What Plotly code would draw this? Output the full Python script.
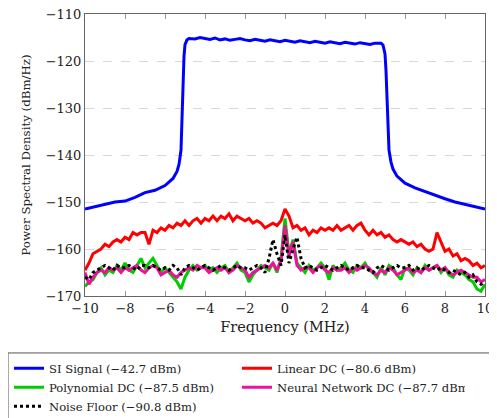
import numpy as np
import plotly.graph_objects as go

freq = np.round(np.arange(-10, 10.001, 0.2), 1)

si_x = [-10, -9.5, -9, -8.5, -8, -7.5, -7, -6.5, -6, -5.8, -5.6, -5.4, -5.3, -5.2, -5.15, -5.1, -5.05, -5.0,
        -4.9, -4.8, -4.5, -4.25, -4.0, -3.75, -3.5, -3.25, -3.0, -2.75, -2.5, -2.25, -2.0, -1.75, -1.5, -1.25,
        -1.0, -0.75, -0.5, -0.25, 0, 0.25, 0.5, 0.75, 1.0, 1.25, 1.5, 1.75, 2.0, 2.25, 2.5, 2.75, 3.0, 3.25,
        3.5, 3.75, 4.0, 4.25, 4.5, 4.8, 4.9, 5.0, 5.05, 5.1, 5.15, 5.2, 5.3, 5.4, 5.6, 5.8, 6.0, 6.5, 7.0,
        7.5, 8.0, 8.5, 9.0, 9.5, 10]
si_y = [-151.5, -151, -150.5, -150, -149.8, -149, -148, -147.5, -146.5, -145.8, -145, -143.5, -142, -139,
        -132, -124, -119, -116.5, -115.5, -115.2, -115.3, -115.0, -115.2, -115.4, -115.1, -115.5, -115.3,
        -115.6, -115.4, -115.2, -115.5, -115.7, -115.4, -115.6, -115.8, -115.5, -115.7, -115.9, -115.6,
        -115.8, -116.0, -115.7, -115.9, -116.1, -115.8, -116.0, -116.2, -115.9, -116.1, -116.3, -116.0,
        -116.2, -116.4, -116.1, -116.3, -116.5, -116.2, -116.2, -116.6, -118.5, -122, -128, -135, -139,
        -141.5, -143, -144.5, -145.3, -146, -147, -147.8, -148.5, -149.3, -150, -150.5, -151, -151.5]

linear_dc = [
    -164.5, -163, -161, -160.5, -160, -159, -159.5, -158.5, -158, -158.5,
    -157.5, -158, -156.5, -157, -156.5, -156.5, -159, -156, -156.5, -155.5,
    -156, -155, -155.5, -154.5, -155, -154, -155, -154, -153.5, -154.5,
    -153.5, -154, -153, -154, -153, -153.5, -152.5, -154, -153, -153.5,
    -154, -153.5, -154.5, -154, -154.5, -155.5, -155, -154.5, -155, -154,
    -151.5, -153, -155.5, -155, -156, -155.5, -157, -156, -156.5, -155.5,
    -156, -155.5, -156, -155, -156, -155.5, -155, -156, -155, -154.5,
    -156, -157, -156, -157, -156.5, -157.5, -157, -158, -158.5, -158,
    -158.5, -159, -158.5, -159.5, -159, -160, -160.5, -160, -156.5, -158.5,
    -160.5, -160, -161.5, -161, -162.5, -162, -162.5, -163.5, -163, -164,
    -163.5]

poly_dc = [
    -168, -167, -166.5, -165, -164, -165.5, -164.5, -165, -163.5, -164.5,
    -163, -164.5, -165, -163.5, -162, -164, -163, -162, -163.5, -165,
    -164, -165, -166, -167, -168.5, -166, -164.5, -163.5, -164.5, -164,
    -163.5, -164.5, -164, -165, -164, -163.5, -165, -164, -163, -164.5,
    -165, -167, -165.5, -164.5, -163.5, -164, -164.5, -163, -165, -162,
    -153.5, -161, -158, -163, -164, -165, -163.5, -164.5, -164, -163,
    -164, -166.5, -163.5, -164.5, -164, -163, -164.5, -165, -163.5, -164,
    -163, -164.5, -165, -166, -164, -165.5, -163.5, -164, -165.5, -166.5,
    -164, -164.5, -165.5, -164, -165, -163.5, -164.5, -164, -163.5, -165,
    -164, -165.5, -166, -164.5, -165, -165.5, -166.5, -167, -168.5, -169,
    -167.5]

nn_dc = [
    -165, -167.5, -166, -165, -164.5, -165, -164, -164.5, -164, -165,
    -164, -164.5, -164, -163.5, -164.5, -165, -164, -163.5, -164, -165.5,
    -165, -164.5, -165.5, -166, -165, -164.5, -164, -164.5, -163.5, -164,
    -164, -165, -164.5, -164, -164.5, -164, -165, -164.5, -163.5, -164,
    -164.5, -166, -165, -164.5, -164, -163.5, -164, -163, -164.5, -162.5,
    -155, -161.5, -158.5, -163.5, -164.5, -164, -164, -165, -164, -163.5,
    -164.5, -165, -164, -164.5, -164.5, -164, -165, -164, -164.5, -164,
    -163.5, -164, -165, -165.5, -164.5, -165, -164, -164.5, -165.5, -165,
    -164.5, -164, -165, -164.5, -165, -164, -164.5, -164, -163.5, -164.5,
    -164, -165, -165.5, -165, -164.5, -165, -165.5, -166, -166, -167,
    -166.5]

noise_floor = [
    -166, -166.5, -165, -164.5, -164, -163.5, -164, -164.5, -163.5, -164,
    -164, -163.5, -164, -164.5, -163.5, -163.5, -164, -163.5, -164, -164.5,
    -164, -164.5, -163.5, -164, -165.5, -164, -163.5, -164, -164.5, -164,
    -163.5, -164, -164.5, -164, -163.5, -164, -164.5, -164, -163.5, -164,
    -164, -164.5, -164, -163.5, -164, -165, -162, -158, -161, -163.5,
    -157, -163, -160, -157.5, -162, -164, -163.5, -164, -164.5, -164,
    -163.5, -164, -164.5, -164, -163.5, -164, -164.5, -164, -163.5, -164,
    -164, -164.5, -165, -164, -163.5, -164, -164.5, -164, -163.5, -164,
    -164, -163.5, -164.5, -164, -164.5, -164, -163.5, -164, -164.5, -164,
    -164.5, -165, -164.5, -165, -165.5, -165, -166, -165.5, -167, -167.5,
    -167]

names = ["SI Signal (−42.7 dBm)", "Linear DC (−80.6 dBm)", "Polynomial DC (−87.5 dBm)",
         "Neural Network DC (−87.7 dBm)", "Noise Floor (−90.8 dBm)"]

x_ticks = [-10, -8, -6, -4, -2, 0, 2, 4, 6, 8, 10]
y_ticks = [-170, -160, -150, -140, -130, -120, -110]

fig = go.Figure()
fig.add_trace(go.Scatter(x=si_x, y=si_y, mode="lines", name=names[0],
                         line=dict(color="#0000ff", width=3)))
fig.add_trace(go.Scatter(x=freq, y=linear_dc, mode="lines", name=names[1],
                         line=dict(color="#ff0000", width=3)))
fig.add_trace(go.Scatter(x=freq, y=poly_dc, mode="lines", name=names[2],
                         line=dict(color="#00cc00", width=3)))
fig.add_trace(go.Scatter(x=freq, y=nn_dc, mode="lines", name=names[3],
                         line=dict(color="#ee1199", width=3)))
fig.add_trace(go.Scatter(x=freq, y=noise_floor, mode="lines", name=names[4],
                         line=dict(color="#000000", width=3, dash="dot")))

serif = "DejaVu Serif"
fig.update_layout(
    width=489, height=410,
    margin=dict(l=77, r=12, t=6, b=122, autoexpand=False),
    paper_bgcolor="white", plot_bgcolor="white",
    font=dict(family=serif, size=13, color="#222"),
    showlegend=True,
    legend=dict(orientation="h", x=-0.19, y=-0.205, xanchor="left", yanchor="top",
                borderwidth=0, entrywidth=183, entrywidthmode="pixels",
                font=dict(family=serif, size=11.6, color="#222"),
                tracegroupgap=0, itemwidth=30),
    shapes=[dict(type="rect", xref="paper", yref="paper", x0=-0.1925, x1=1.1, y0=-0.202, y1=-0.5,
                 line=dict(color="#555", width=1), fillcolor="rgba(0,0,0,0)", layer="below")],
    xaxis=dict(range=[-10, 10], tickvals=x_ticks, ticks="inside", ticklen=5, tickcolor="#999",
               showline=True, linecolor="#666", linewidth=1, mirror="ticks", showgrid=False,
               zeroline=False, tickfont=dict(family=serif, size=13, color="#222"),
               title=dict(text="Frequency (MHz)", standoff=7, font=dict(family=serif, size=14.5))),
    yaxis=dict(range=[-170, -110], tickvals=y_ticks, ticks="", showline=True, linecolor="#666",
               linewidth=1, mirror=True, showgrid=True, ticklabeloverflow="allow",
               gridcolor="#d8d8d8", griddash="dash", gridwidth=1, zeroline=False,
               tickfont=dict(family=serif, size=13, color="#222"),
               title=dict(text="Power Spectral Density (dBm/Hz)", standoff=12,
                          font=dict(family=serif, size=11.8))),
)

fig.write_html("out.html")
